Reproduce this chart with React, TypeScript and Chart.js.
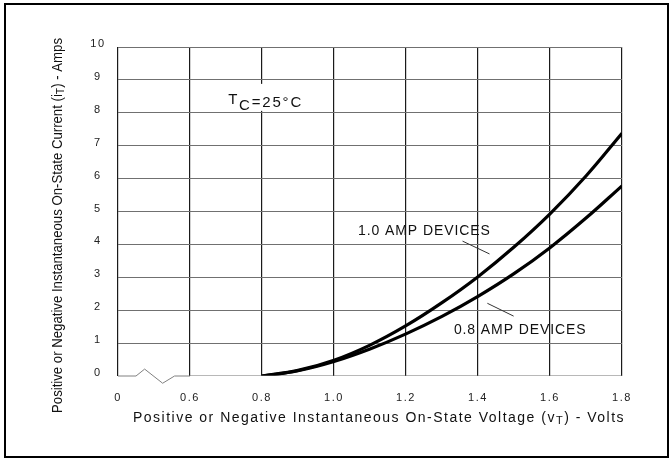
import { useEffect, useRef } from 'react';
import { Chart, registerables } from 'chart.js';

Chart.register(...registerables);

const FONT = '"Liberation Sans", Arial, Helvetica, sans-serif';

// On-state voltage (V) and the matching instantaneous current (A) for each device rating
const voltage = [0.8, 0.9, 1.0, 1.1, 1.2, 1.3, 1.4, 1.5, 1.6, 1.7, 1.8];
const currentOneAmp = [0, 0.17, 0.48, 0.94, 1.53, 2.23, 3.02, 3.92, 4.93, 6.08, 7.38];
const currentEightTenthsAmp = [0, 0.16, 0.44, 0.82, 1.28, 1.81, 2.42, 3.11, 3.9, 4.8, 5.78];

// Axis ticks: the first x tick stands for the broken origin and is labelled "0"
const xTickValues = [0.4, 0.6, 0.8, 1.0, 1.2, 1.4, 1.6, 1.8];
const xTickLabels = ['0', '0.6', '0.8', '1.0', '1.2', '1.4', '1.6', '1.8'];
const yTickValues = [0, 1, 2, 3, 4, 5, 6, 7, 8, 9, 10];

// Zig-zag axis break on the zero line, then the rest of the zero line
const breakX = [0.4, 0.45, 0.474, 0.524, 0.557, 0.6];
const breakY = [0, 0, 0.21, -0.22, 0, 0];
const baselineX = [0.6, 1.8];
const baselineY = [0, 0];

type Part = { text: string; dy?: number; small?: boolean };

const yTitle: Part[] = [
  { text: 'Positive or Negative Instantaneous On-State Current (i' },
  { text: 'T', dy: 3, small: true },
  { text: ') - Amps' },
];
const xTitle: Part[] = [
  { text: 'Positive or Negative Instantaneous On-State Voltage (v' },
  { text: 'T', dy: 3, small: true },
  { text: ') - Volts' },
];
const tempLabel: Part[] = [{ text: 'T', dy: -3 }, { text: 'C', dy: 3 }, { text: '=25°C' }];
const tempLabelAt = { x: 0.706, y: 8.18 };

const curveLabels = [
  { text: '1.0 AMP DEVICES', x: 1.067, y: 4.41 },
  { text: '0.8 AMP DEVICES', x: 1.333, y: 1.38 },
];
const leaderLines = [
  { x1: 1.357, y1: 4.1, x2: 1.432, y2: 3.71 },
  { x1: 1.426, y1: 2.21, x2: 1.499, y2: 1.82 },
];

function partsWidth(ctx: CanvasRenderingContext2D, parts: Part[], size: number, smallSize: number, spacing: number) {
  let w = 0;
  for (const p of parts) {
    ctx.font = `${p.small ? smallSize : size}px ${FONT}`;
    (ctx as any).letterSpacing = '0px';
    w += ctx.measureText(p.text).width + spacing * p.text.length;
  }
  return w;
}

function drawParts(
  ctx: CanvasRenderingContext2D,
  parts: Part[],
  x: number,
  y: number,
  size: number,
  smallSize: number,
  spacing: number
) {
  let cx = x;
  for (const p of parts) {
    ctx.font = `${p.small ? smallSize : size}px ${FONT}`;
    (ctx as any).letterSpacing = '0px';
    const w = ctx.measureText(p.text).width + spacing * p.text.length;
    (ctx as any).letterSpacing = `${spacing}px`;
    ctx.fillText(p.text, cx, y + (p.dy ?? 0));
    cx += w;
  }
  (ctx as any).letterSpacing = '0px';
}

const decorations = {
  id: 'decorations',
  beforeDraw(chart: any) {
    chart.ctx.letterSpacing = '1.5px';
  },
  beforeDatasetsDraw(chart: any) {
    chart.ctx.letterSpacing = '0px';
  },
  afterDatasetsDraw(chart: any) {
    const ctx: CanvasRenderingContext2D = chart.ctx;
    const xs = chart.scales.x;
    const ys = chart.scales.y;
    ctx.save();
    ctx.textAlign = 'left';

    // case temperature note, on a white patch over the grid
    const tx = xs.getPixelForValue(tempLabelAt.x);
    const ty = ys.getPixelForValue(tempLabelAt.y);
    const tw = partsWidth(ctx, tempLabel, 15, 15, 1.8);
    ctx.fillStyle = '#fff';
    ctx.fillRect(tx - 4, ty - 23, tw + 6, 27);
    ctx.fillStyle = '#111';
    ctx.textBaseline = 'alphabetic';
    drawParts(ctx, tempLabel, tx, ty, 15, 15, 1.8);

    // curve names and their leader lines
    ctx.textBaseline = 'middle';
    for (const l of curveLabels) {
      drawParts(ctx, [{ text: l.text }], xs.getPixelForValue(l.x), ys.getPixelForValue(l.y), 14, 14, 0.9);
    }
    ctx.strokeStyle = '#333';
    ctx.lineWidth = 1;
    for (const l of leaderLines) {
      ctx.beginPath();
      ctx.moveTo(xs.getPixelForValue(l.x1), ys.getPixelForValue(l.y1));
      ctx.lineTo(xs.getPixelForValue(l.x2), ys.getPixelForValue(l.y2));
      ctx.stroke();
    }
    ctx.restore();
  },
  afterDraw(chart: any) {
    const ctx: CanvasRenderingContext2D = chart.ctx;
    ctx.save();
    ctx.fillStyle = '#111';
    ctx.textAlign = 'left';
    ctx.textBaseline = 'middle';

    // vertical axis title, set narrow
    ctx.save();
    ctx.translate(58, 225.5);
    ctx.rotate(-Math.PI / 2);
    const yw = partsWidth(ctx, yTitle, 14, 11, 0);
    const yLen = 375;
    ctx.scale(yLen / yw, 1);
    drawParts(ctx, yTitle, -yw / 2, 0, 14, 11, 0);
    ctx.restore();

    // horizontal axis title, slightly tracked
    const xLen = 492;
    const chars = xTitle.reduce((n, p) => n + p.text.length, 0);
    const x0 = partsWidth(ctx, xTitle, 14, 11, 0);
    const spacing = (xLen - x0) / chars;
    drawParts(ctx, xTitle, 379 - xLen / 2, 418, 14, 11, spacing);

    // outer frame
    ctx.strokeStyle = '#000';
    ctx.lineWidth = 2;
    ctx.strokeRect(5, 4, 663, 453);
    ctx.restore();
  },
};

export default function App() {
  const ref = useRef<HTMLCanvasElement>(null);

  useEffect(() => {
    const canvas = ref.current;
    if (!canvas) return;
    const tickFont = { family: FONT, size: 11 };
    const chart = new Chart(canvas, {
      type: 'line',
      data: {
        datasets: [
          {
            label: 'break',
            data: breakX.map((x, i) => ({ x, y: breakY[i] })),
            borderColor: '#808080',
            borderWidth: 1,
            pointRadius: 0,
            tension: 0,
            clip: false,
          } as any,
          {
            label: 'baseline',
            data: baselineX.map((x, i) => ({ x, y: baselineY[i] })),
            borderColor: '#707070',
            borderWidth: 1,
            pointRadius: 0,
          },
          {
            label: '1.0 AMP DEVICES',
            data: voltage.map((x, i) => ({ x, y: currentOneAmp[i] })),
            borderColor: '#000',
            borderWidth: 3.2,
            pointRadius: 0,
            tension: 0.4,
          },
          {
            label: '0.8 AMP DEVICES',
            data: voltage.map((x, i) => ({ x, y: currentEightTenthsAmp[i] })),
            borderColor: '#000',
            borderWidth: 3.2,
            pointRadius: 0,
            tension: 0.4,
          },
        ],
      },
      options: {
        animation: false,
        responsive: false,
        layout: { padding: { left: 78, top: 47, right: 50, bottom: 45 } },
        plugins: { legend: { display: false }, tooltip: { enabled: false } },
        scales: {
          x: {
            type: 'linear',
            min: 0.4,
            max: 1.8,
            afterBuildTicks: (s: any) => {
              s.ticks = xTickValues.map((value) => ({ value }));
            },
            afterFit: (s: any) => {
              s.height = 40;
            },
            ticks: {
              font: tickFont,
              color: '#222',
              padding: 15,
              maxRotation: 0,
              autoSkip: false,
              callback: (v: any) => {
                const i = xTickValues.findIndex((t) => Math.abs(t - Number(v)) < 1e-6);
                return i >= 0 ? xTickLabels[i] : '';
              },
            },
            grid: { color: '#1a1a1a', lineWidth: 1.2, drawTicks: false },
            border: { display: false },
          },
          y: {
            type: 'linear',
            min: 0,
            max: 10,
            afterBuildTicks: (s: any) => {
              s.ticks = yTickValues.map((value) => ({ value }));
            },
            afterFit: (s: any) => {
              s.width = 40;
            },
            ticks: {
              font: tickFont,
              color: '#222',
              padding: 14,
              crossAlign: 'center',
              labelOffset: -3,
              callback: (v: any) => String(v),
            },
            grid: {
              color: (c: any) => (c.tick && c.tick.value === 0 ? 'rgba(0,0,0,0)' : '#707070'),
              lineWidth: 1,
              drawTicks: false,
            },
            border: { display: false },
          },
        },
      },
      plugins: [decorations],
    });
    return () => chart.destroy();
  }, []);

  return (
    <div style={{ position: 'fixed', left: 0, top: 0, width: 672, height: 461, background: '#fff' }}>
      <canvas ref={ref} width={672} height={461} style={{ display: 'block' }} />
    </div>
  );
}
